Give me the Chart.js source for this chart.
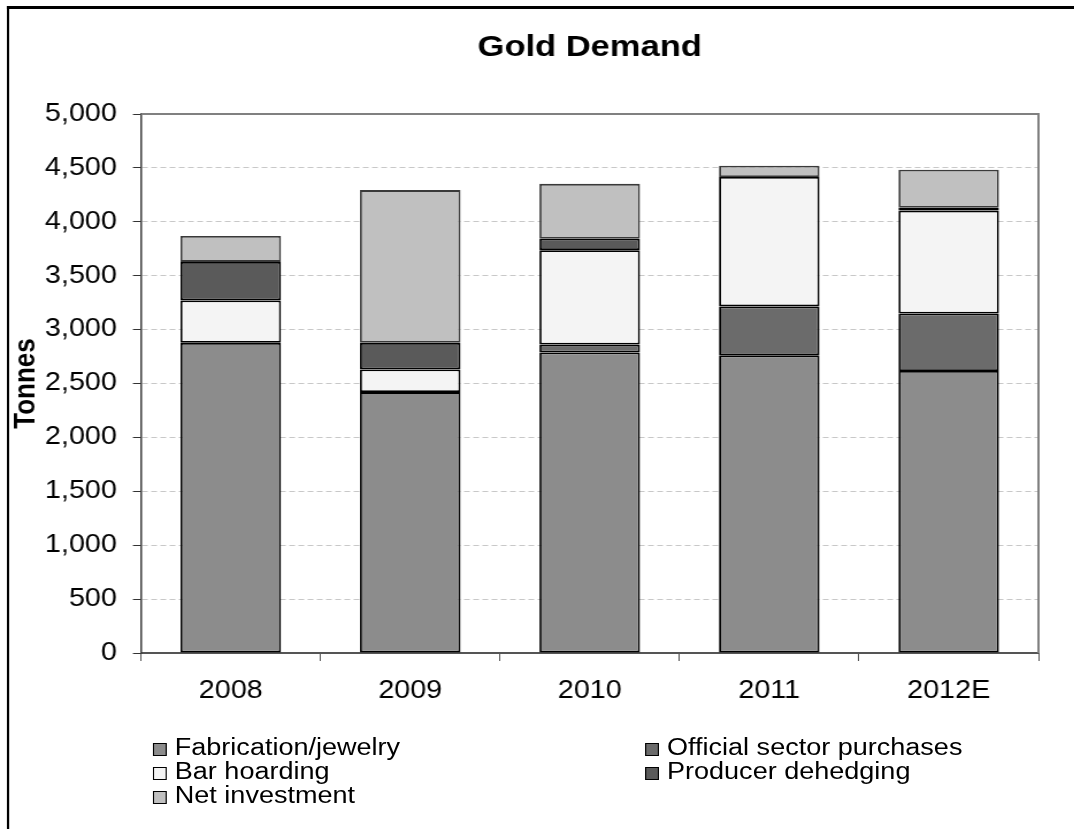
<!DOCTYPE html>
<html>
<head>
<meta charset="utf-8">
<title>Gold Demand</title>
<script src="https://cdn.jsdelivr.net/npm/chart.js@4.4.1/dist/chart.umd.min.js"></script>
<style>
    body { margin: 0; background: #fff; overflow: hidden; }
    /* the picture's lettering is a bit wider than plain Arial, so stretch the stage */
    #stage {
        position: absolute; left: 0; top: 0;
        width: 934px; height: 829px;
        transform: scaleX(1.15); transform-origin: 0 0;
        font-family: "Liberation Sans", Arial, sans-serif;
    }
    #frame {
        position: absolute; left: 6px; top: 6px; width: 940px; height: 840px;
        border-top: 3px solid #000; border-left: 2px solid #000;
    }
    #chart-box { position: absolute; left: 0; top: 0; width: 934px; height: 722px; }
    .legend-item {
        position: absolute; font-size: 23.5px; line-height: 24px; color: #000;
        white-space: nowrap;
    }
    .legend-item span {
        display: inline-block; width: 10px; height: 11px; border: 1px solid #000;
        margin-right: 7px; vertical-align: -1px;
    }
</style>
</head>
<body>
<div id="stage">
    <div id="frame"></div>
    <div id="chart-box"><canvas id="gold-chart"></canvas></div>
    <div id="legend"></div>
</div>
<script>
// Data (tonnes)
const years = ['2008', '2009', '2010', '2011', '2012E'];
const fabrication = [2877, 2420, 2787, 2761, 2616];
const officialSector = [0, 0, 74, 454, 534];
const barHoarding = [394, 211, 876, 1200, 954];
const producerDehedging = [357, 246, 106, 0, 27];
const netInvestment = [240, 1417, 509, 105, 352];

const seriesNames = ['Fabrication/jewelry', 'Official sector purchases', 'Bar hoarding', 'Producer dehedging', 'Net investment'];
const seriesColors = ['#8c8c8c', '#6b6b6b', '#f4f4f4', '#5a5a5a', '#c0c0c0'];
const yTicks = [0, 500, 1000, 1500, 2000, 2500, 3000, 3500, 4000, 4500, 5000];

const fontFamily = '"Liberation Sans", Arial, sans-serif';

function makeDataset(i, values) {
    return {
        label: seriesNames[i],
        data: values,
        backgroundColor: seriesColors[i],
        borderColor: i === 4 ? '#3a3a3a' : '#000',
        borderWidth: 1.8,
        borderSkipped: false,
        barPercentage: 0.56,
        categoryPercentage: 1.0
    };
}

// gray frame on top and right of the plot area
const plotFrame = {
    id: 'plotFrame',
    afterDraw(chart) {
        const { ctx, chartArea } = chart;
        ctx.save();
        ctx.strokeStyle = '#808080';
        ctx.lineWidth = 2;
        ctx.beginPath();
        ctx.moveTo(chartArea.left, chartArea.top);
        ctx.lineTo(chartArea.right, chartArea.top);
        ctx.lineTo(chartArea.right, chartArea.bottom);
        ctx.stroke();
        ctx.restore();
    }
};

const chart = new Chart(document.querySelector('#gold-chart').getContext('2d'), {
    type: 'bar',
    data: {
        labels: years,
        datasets: [
            makeDataset(0, fabrication),
            makeDataset(1, officialSector),
            makeDataset(2, barHoarding),
            makeDataset(3, producerDehedging),
            makeDataset(4, netInvestment)
        ]
    },
    options: {
        responsive: true,
        maintainAspectRatio: false,
        animation: false,
        layout: { padding: { left: 1, right: 31, top: 0, bottom: 1 } },
        plugins: {
            legend: { display: false },
            tooltip: { enabled: false },
            title: {
                display: true,
                fullSize: false,
                text: 'Gold Demand',
                color: '#000',
                font: { family: fontFamily, size: 30, weight: 'bold' },
                padding: { top: 30, bottom: 48 }
            }
        },
        scales: {
            x: {
                stacked: true,
                grid: { drawOnChartArea: false, offset: true, tickLength: 8, color: '#555' },
                border: { color: '#555', width: 2 },
                ticks: { color: '#000', padding: 15, font: { family: fontFamily, size: 25 } }
            },
            y: {
                stacked: true,
                min: 0,
                max: 5000,
                afterBuildTicks: axis => { axis.ticks = yTicks.map(v => ({ value: v })); },
                afterFit: axis => { axis.width = 121.6; },
                grid: {
                    color: c => (c.tick && (c.tick.value === 0 || c.tick.value === 5000)) ? 'rgba(0,0,0,0)' : '#c8c8c8',
                    tickColor: '#333',
                    tickBorderDash: [],
                    tickLength: 7
                },
                // in v4 border.dash is what dashes the grid lines
                border: { color: '#3c3c3c', width: 1.5, dash: [5, 3] },
                ticks: {
                    color: '#000',
                    padding: 14,
                    font: { family: fontFamily, size: 25 },
                    callback: v => v.toLocaleString('en-US')
                },
                title: {
                    display: true,
                    text: 'Tonnes',
                    color: '#000',
                    font: { family: fontFamily, size: 26, weight: 'bold' },
                    padding: { top: 6, bottom: 2 }
                }
            }
        }
    },
    plugins: [plotFrame]
});

// Legend in two columns, same order as the datasets
const legend = document.querySelector('#legend');
chart.data.datasets.forEach((ds, i) => {
    const item = document.createElement('div');
    item.className = 'legend-item';
    item.style.left = (i % 2 === 0 ? 133 : 561) + 'px';
    item.style.top = (735 + Math.floor(i / 2) * 24) + 'px';
    item.innerHTML = '<span style="background:' + ds.backgroundColor + '"></span>' + ds.label;
    legend.appendChild(item);
});
</script>
</body>
</html>
